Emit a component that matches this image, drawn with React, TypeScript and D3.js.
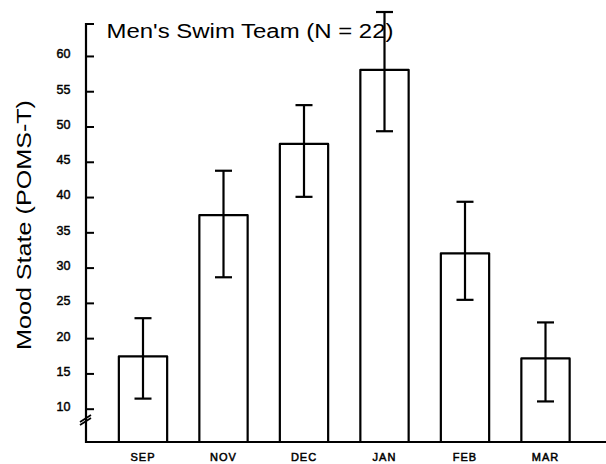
import React from "react";
import * as d3 from "d3";

const months = ["SEP", "NOV", "DEC", "JAN", "FEB", "MAR"];
const means = [17.5, 37.5, 47.6, 58.1, 32.1, 17.2];
const errHigh = [22.9, 43.8, 53.1, 66.3, 39.4, 22.3];
const errLow = [11.5, 28.7, 40.1, 49.4, 25.5, 11.1];
const yTicks = [10, 15, 20, 25, 30, 35, 40, 45, 50, 55, 60];
const title = "Men's Swim Team (N = 22)";
const yTitle = "Mood State (POMS-T)";

const W = 606;
const H = 464;
const axisX = 86;
const axisBottom = 442;
const axisTop = 24;

export default function App() {
  const y = d3.scaleLinear().domain([5.35, 64.6]).range([axisBottom, axisTop]);
  const x = d3
    .scaleBand<string>()
    .domain(months)
    .range([102.75, 585.75])
    .paddingInner(0.4)
    .paddingOuter(0.2);
  const bw = x.bandwidth();
  const cap = 8.5;
  const font = "'Liberation Sans', Arial, Helvetica, sans-serif";

  return (
    <svg
      width={W}
      height={H}
      style={{ position: "absolute", left: 0, top: 0, background: "#fff" }}
      fontFamily={font}
    >
      <rect x={0} y={0} width={W} height={H} fill="#fff" />
      {/* bars */}
      {months.map((m, i) => {
        const x0 = x(m)!;
        const yt = y(means[i]);
        const path = d3.path();
        path.moveTo(x0, axisBottom);
        path.lineTo(x0, yt);
        path.lineTo(x0 + bw, yt);
        path.lineTo(x0 + bw, axisBottom);
        return (
          <path
            key={m}
            d={path.toString()}
            fill="none"
            stroke="#000"
            strokeWidth={2.2}
            strokeLinejoin="round"
          />
        );
      })}
      {/* error bars */}
      {months.map((m, i) => {
        const cx = x(m)! + bw / 2;
        const yh = y(errHigh[i]);
        const yl = y(errLow[i]);
        return (
          <g key={"e" + m} stroke="#000" strokeWidth={2.2}>
            <line x1={cx} x2={cx} y1={yh} y2={yl} />
            <line x1={cx - cap} x2={cx + cap} y1={yh} y2={yh} />
            <line x1={cx - cap} x2={cx + cap} y1={yl} y2={yl} />
          </g>
        );
      })}
      {/* axes */}
      <path
        d={`M${axisX + 8},${axisTop} H${axisX} V${axisBottom} H${W}`}
        fill="none"
        stroke="#000"
        strokeWidth={2.2}
      />
      {/* axis break */}
      <g stroke="#000" strokeWidth={1.8}>
        <line x1={axisX - 6} x2={axisX + 5} y1={y(5.35) - 17} y2={y(5.35) - 24} />
        <line x1={axisX - 6} x2={axisX + 5} y1={y(5.35) - 20} y2={y(5.35) - 27} />
      </g>
      {yTicks.map((t) => (
        <g key={t}>
          <line x1={axisX} x2={axisX + 8} y1={y(t)} y2={y(t)} stroke="#000" strokeWidth={2} />
          <text
            x={70.5}
            y={y(t) - 2.5}
            dy="0.35em"
            textAnchor="end"
            fontSize={12.5}
            fill="#000"
            stroke="#000"
            strokeWidth={0.45}
          >
            {t}
          </text>
        </g>
      ))}
      {months.map((m) => (
        <text
          key={"l" + m}
          x={x(m)! + bw / 2}
          y={461}
          textAnchor="middle"
          fontSize={11}
          letterSpacing={1}
          fill="#000"
          stroke="#000"
          strokeWidth={0.5}
        >
          {m}
        </text>
      ))}
      <text x={106.5} y={37.5} fontSize={20} fill="#000" textLength={287} lengthAdjust="spacingAndGlyphs">
        {title}
      </text>
      <text
        transform={`translate(31,225) rotate(-90)`}
        textAnchor="middle"
        fontSize={21}
        fill="#000"
        textLength={250}
        lengthAdjust="spacingAndGlyphs"
      >
        {yTitle}
      </text>
    </svg>
  );
}
